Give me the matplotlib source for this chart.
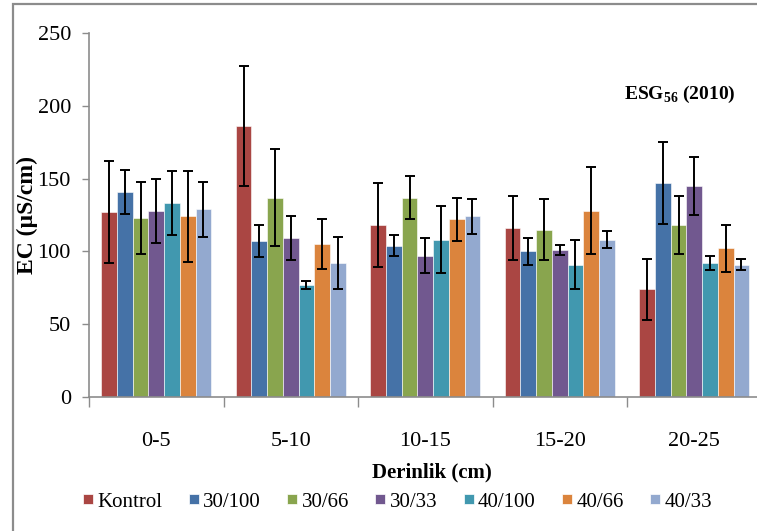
"""EC by depth, grouped bars with error bars (ESG56, 2010)."""

import numpy as np
import matplotlib
matplotlib.use("Agg")
import matplotlib.pyplot as plt
from matplotlib.patches import Rectangle
from matplotlib.lines import Line2D

DEPTHS = ["0-5", "5-10", "10-15", "15-20", "20-25"]
TREATMENTS = ["Kontrol", "30/100", "30/66", "30/33", "40/100", "40/66", "40/33"]

# mean EC per treatment, one value per depth
KONTROL = [127, 186, 118, 116, 74]
T30_100 = [141, 107, 104, 100, 147]
T30_66 = [123, 137, 137, 115, 118]
T30_33 = [128, 109, 97, 101, 145]
T40_100 = [133, 77, 108, 91, 92]
T40_66 = [124, 105, 122, 128, 102]
T40_33 = [129, 92, 124, 108, 91]

# error bar half-widths
KONTROL_ERR = [35, 41, 29, 22, 21]
T30_100_ERR = [15, 11, 7, 9, 28]
T30_66_ERR = [25, 33, 15, 21, 20]
T30_33_ERR = [22, 15, 12, 3.5, 20]
T40_100_ERR = [22, 3, 23, 17, 5]
T40_66_ERR = [31, 17, 15, 30, 16]
T40_33_ERR = [19, 18, 12, 6, 3.5]

MEANS = [KONTROL, T30_100, T30_66, T30_33, T40_100, T40_66, T40_33]
ERRS = [KONTROL_ERR, T30_100_ERR, T30_66_ERR, T30_33_ERR, T40_100_ERR, T40_66_ERR, T40_33_ERR]

COLORS = ["#AA4643", "#4572A7", "#89A54E", "#71588F", "#4198AF", "#DB843D", "#93A9CF"]
AXIS_GRAY = "#8c8c8c"

plt.rcParams.update(
    {
        "font.family": ["Liberation Serif", "DejaVu Serif"],
        "mathtext.fontset": "custom",
        "mathtext.rm": "Liberation Serif:bold",
        "mathtext.bf": "Liberation Serif:bold",
    }
)

fig = plt.figure(figsize=(7.57, 5.31), dpi=100)
ax = fig.add_axes([89 / 757, 1 - 397 / 531, 672.5 / 757, 364 / 531])

x = np.arange(len(DEPTHS))
width = 0.117
for j, (name, vals, err, col) in enumerate(zip(TREATMENTS, MEANS, ERRS, COLORS)):
    ax.bar(
        x + (j - 3) * width,
        vals,
        width,
        color=col,
        edgecolor="white",
        linewidth=0.4,
        yerr=err,
        error_kw=dict(ecolor="black", elinewidth=1.4, capsize=3.5, capthick=1.4),
        label=name,
        zorder=2,
    )

ax.set_xlim(-0.5, len(DEPTHS) - 0.5)
ax.set_ylim(0, 250)
ax.set_yticks(range(0, 251, 50))

# category boundaries get the tick marks, centres get the labels
ax.set_xticks(np.arange(-0.5, len(DEPTHS), 1.0))
ax.set_xticklabels([])
ax.set_xticks(x, minor=True)
ax.set_xticklabels(DEPTHS, minor=True)
ax.tick_params(axis="x", which="major", length=7, width=1, color=AXIS_GRAY, direction="out")
ax.tick_params(axis="x", which="minor", length=0, pad=25, labelsize=16)
ax.tick_params(axis="y", length=5, width=1, color=AXIS_GRAY, pad=8, labelsize=16)

for side in ("top", "right"):
    ax.spines[side].set_visible(False)
for side in ("left", "bottom"):
    ax.spines[side].set_color(AXIS_GRAY)
    ax.spines[side].set_linewidth(1.2)

fig.text(27 / 757, 1 - 215 / 531, "EC (µS/cm)", rotation=90, ha="center", va="center",
         fontsize=17, fontweight="bold")
fig.text(432 / 757, 1 - 472 / 531, "Derinlik (cm)", ha="center", va="center",
         fontsize=15, fontweight="bold")
fig.text(680 / 757, 1 - 94 / 531, r"ESG$_{\mathrm{56}}$ (2010)", ha="center", va="center",
         fontsize=14, fontweight="bold")

handles = [Line2D([], [], marker="s", linestyle="none", markersize=7, markerfacecolor=c,
                  markeredgecolor="white", markeredgewidth=0.5) for c in COLORS]
fig.legend(
    handles,
    TREATMENTS,
    loc="center",
    bbox_to_anchor=(397 / 757, 1 - 502 / 531),
    ncol=7,
    frameon=False,
    fontsize=15,
    handlelength=0.6,
    handletextpad=0.15,
    columnspacing=1.2,
    borderaxespad=0,
)

# grey outer frame of the original chart area (cropped on right and bottom)
fig.patches.append(Rectangle((13 / 757, -0.05), 1.1, 1.05 - 4 / 531, transform=fig.transFigure,
                             fill=False, edgecolor=AXIS_GRAY, linewidth=1.6))

fig.savefig("out.png", dpi=100)
